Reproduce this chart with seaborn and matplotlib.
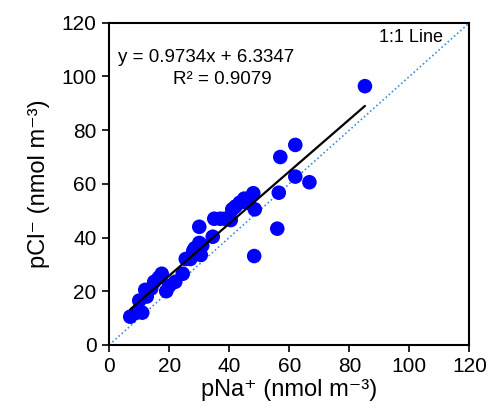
import numpy as np
import pandas as pd
import matplotlib
matplotlib.use("Agg")
import matplotlib.pyplot as plt
import seaborn as sns

# values
pna = [7, 9, 11, 10, 12.5, 12, 14, 15, 16.5, 17.5, 19, 20, 22, 24.5, 25.5, 27,
       28, 28.5, 30, 30.5, 30, 31, 34.5, 35, 37, 38.5, 40.5, 41, 42, 43.5, 45,
       46, 48, 48.5, 48.3, 56, 56.5, 57, 62, 62, 66.7, 85.2]
pcl = [10.5, 12, 12, 16.5, 18, 20.5, 21, 23.5, 25, 26.5, 20, 22, 23.5, 26.5,
       32, 32, 35, 36, 38, 33.5, 44, 37, 40.3, 47, 47, 47, 46.5, 50.5, 51.5,
       53, 54.5, 53, 56.5, 50.5, 33.1, 43.3, 56.7, 70, 74.5, 62.7, 60.6, 96.4]
one_to_one = [0, 120]
ticks = [0, 20, 40, 60, 80, 100, 120]
eq_text = "y = 0.9734x + 6.3347"
r2_text = "R² = 0.9079"

df = pd.DataFrame({"pNa": pna, "pCl": pcl})

sns.set_style("ticks")
plt.rcParams["font.family"] = ["Liberation Sans", "DejaVu Sans"]
plt.rcParams["text.color"] = "black"
plt.rcParams["axes.labelcolor"] = "black"
plt.rcParams["xtick.color"] = "black"
plt.rcParams["ytick.color"] = "black"

fig = plt.figure(figsize=(4.92, 4.15), dpi=100)
ax = fig.add_axes([0.222, 0.169, 0.732, 0.776])

ax.plot(one_to_one, one_to_one, linestyle=(0, (1, 1.5)), color="#3f8fd2", lw=1.2, zorder=1)
sns.scatterplot(data=df, x="pNa", y="pCl", ax=ax, color="#0000ff", s=110,
                edgecolor="none", zorder=2)
sns.regplot(data=df, x="pNa", y="pCl", ax=ax, scatter=False, ci=None,
            line_kws={"color": "black", "lw": 1.6, "zorder": 3})

ax.set_xlim(0, 120)
ax.set_ylim(0, 120)
ax.set_xticks(ticks)
ax.set_yticks(ticks)
ax.tick_params(labelsize=15, length=5, width=1.2, pad=4)
for sp in ax.spines.values():
    sp.set_linewidth(1.5)
    sp.set_color("black")

ax.set_xlabel("pNa⁺ (nmol m⁻³)", fontsize=17, labelpad=2)
ax.set_ylabel("pCl⁻ (nmol m⁻³)", fontsize=17, labelpad=8)

ax.text(32.3, 107, eq_text, fontsize=13.5, ha="center", va="center")
ax.text(37.6, 98.7, r2_text, fontsize=13.5, ha="center", va="center")
ax.text(111.3, 114.7, "1:1 Line", fontsize=13, ha="right", va="center")

fig.savefig("out.png", dpi=100)
